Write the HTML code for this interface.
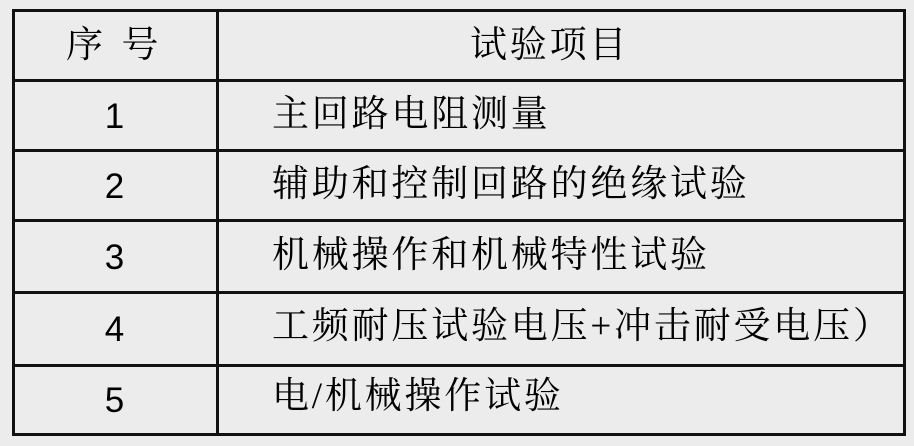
<!DOCTYPE html>
<html><head><meta charset="utf-8"><style>
body{margin:0;background:#ececec;width:914px;height:446px;position:relative;overflow:hidden}
.l{position:absolute;background:#111}
.t{position:absolute;font-family:"Liberation Serif","Noto Serif CJK SC","Noto Sans CJK SC",serif;font-size:37px;letter-spacing:2.8px;color:#000;line-height:1;white-space:nowrap}
.n{position:absolute;font-family:"Liberation Sans",sans-serif;font-size:35px;color:#000;line-height:1;width:205px;text-align:center;left:12px}
</style></head><body>
<div class="l" style="left:12px;top:9px;width:3px;height:427px"></div>
<div class="l" style="left:903px;top:9px;width:3px;height:427px"></div>
<div class="l" style="left:216px;top:9px;width:3px;height:427px"></div>
<div class="l" style="left:12px;top:9px;width:894px;height:3px"></div>
<div class="l" style="left:12px;top:79px;width:894px;height:3px"></div>
<div class="l" style="left:12px;top:149px;width:894px;height:3px"></div>
<div class="l" style="left:12px;top:219px;width:894px;height:3px"></div>
<div class="l" style="left:12px;top:291px;width:894px;height:3px"></div>
<div class="l" style="left:12px;top:364px;width:894px;height:3px"></div>
<div class="l" style="left:12px;top:433px;width:894px;height:3px"></div>
<div class="t" style="left:66px;top:27px;letter-spacing:0">序&nbsp;&nbsp;号</div>
<div class="t" style="left:470px;top:27px">试验项目</div>
<div class="n" style="top:99px">1</div>
<div class="n" style="top:169px">2</div>
<div class="n" style="top:240px">3</div>
<div class="n" style="top:312px">4</div>
<div class="n" style="top:383px">5</div>
<div class="t" style="left:272px;top:96px">主回路电阻测量</div>
<div class="t" style="left:272px;top:166px">辅助和控制回路的绝缘试验</div>
<div class="t" style="left:272px;top:237px">机械操作和机械特性试验</div>
<div class="t" style="left:272px;top:308px">工频耐压试验电压+冲击耐受电压）</div>
<div class="t" style="left:272px;top:378px">电/机械操作试验</div>
</body></html>
